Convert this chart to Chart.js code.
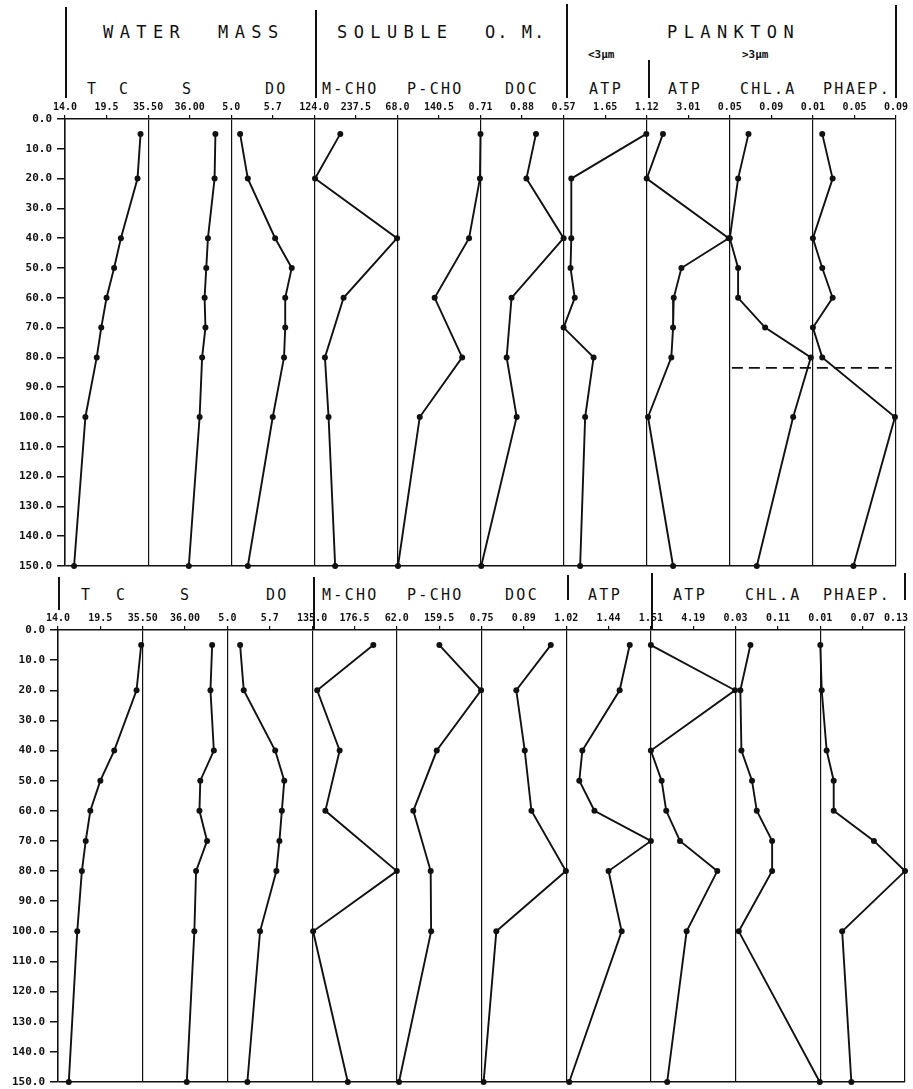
<!DOCTYPE html>
<html>
<head>
<meta charset="utf-8">
<script src="https://cdn.jsdelivr.net/npm/chart.js@4.4.1/dist/chart.umd.min.js"></script>
<style>
  body { margin: 0; background: #fff; width: 913px; height: 1089px; overflow: hidden; position: relative;
         font-family: "DejaVu Sans Mono", monospace; color: #111; }
  canvas { position: absolute; left: 0; }
  .t { position: absolute; white-space: nowrap; line-height: 1; }
  .big { font-size: 17px; letter-spacing: 6.4px; }
  .mid { font-size: 15px; letter-spacing: 2.3px; }
  .sm { font-size: 11px; font-weight: bold; }
  .v { position: absolute; width: 1.5px; background: #111; }
</style>
</head>
<body>
<!-- top header -->
<div class="v" style="left:65px;top:7px;height:91px"></div>
<div class="v" style="left:315px;top:10px;height:88px"></div>
<div class="v" style="left:566px;top:4px;height:94px"></div>
<div class="v" style="left:648px;top:60px;height:38px"></div>
<div class="v" style="left:895px;top:5px;height:93px"></div>
<div class="t big" style="left:103px;top:24px">WATER</div>
<div class="t big" style="left:218px;top:24px">MASS</div>
<div class="t big" style="left:337px;top:24px">SOLUBLE</div>
<div class="t big" style="left:485px;top:24px;letter-spacing:2px">O. M.</div>
<div class="t big" style="left:667px;top:24px">PLANKTON</div>
<div class="t sm" style="left:588px;top:49px">&lt;3µm</div>
<div class="t sm" style="left:742px;top:49px">&gt;3µm</div>
<div class="t mid" style="left:87px;top:82px">T</div>
<div class="t mid" style="left:119px;top:82px">C</div>
<div class="t mid" style="left:182px;top:82px">S</div>
<div class="t mid" style="left:265px;top:82px">DO</div>
<div class="t mid" style="left:322px;top:82px">M-CHO</div>
<div class="t mid" style="left:407px;top:82px">P-CHO</div>
<div class="t mid" style="left:505px;top:82px">DOC</div>
<div class="t mid" style="left:589px;top:82px">ATP</div>
<div class="t mid" style="left:668px;top:82px">ATP</div>
<div class="t mid" style="left:740px;top:82px">CHL.A</div>
<div class="t mid" style="left:823px;top:82px">PHAEP.</div>
<!-- bottom header -->
<div class="v" style="left:58px;top:577px;height:33px"></div>
<div class="v" style="left:313px;top:577px;height:53px"></div>
<div class="v" style="left:567px;top:575px;height:25px"></div>
<div class="v" style="left:651px;top:573px;height:57px"></div>
<div class="v" style="left:904px;top:573px;height:27px"></div>
<div class="t mid" style="left:81px;top:588px">T</div>
<div class="t mid" style="left:116px;top:588px">C</div>
<div class="t mid" style="left:180px;top:588px">S</div>
<div class="t mid" style="left:266px;top:588px">DO</div>
<div class="t mid" style="left:322px;top:588px">M-CHO</div>
<div class="t mid" style="left:407px;top:588px">P-CHO</div>
<div class="t mid" style="left:505px;top:588px">DOC</div>
<div class="t mid" style="left:588px;top:588px">ATP</div>
<div class="t mid" style="left:673px;top:588px">ATP</div>
<div class="t mid" style="left:745px;top:588px">CHL.A</div>
<div class="t mid" style="left:823px;top:588px">PHAEP.</div>

<canvas id="chartTop" width="913" height="490" style="top:95px"></canvas>
<canvas id="chartBottom" width="913" height="483" style="top:606px"></canvas>

<script>
// TICK LABELS (each column: left edge value, middle value)
const topTickLabels = ["14.0", "19.5", "35.50", "36.00", "5.0", "5.7", "124.0", "237.5", "68.0", "140.5",
  "0.71", "0.88", "0.57", "1.65", "1.12", "3.01", "0.05", "0.09", "0.01", "0.05", "0.09"];
const bottomTickLabels = ["14.0", "19.5", "35.50", "36.00", "5.0", "5.7", "135.0", "176.5", "62.0", "159.5",
  "0.75", "0.89", "1.02", "1.44", "1.51", "4.19", "0.03", "0.11", "0.01", "0.07", "0.13"];
const columnKeys = ["T", "S", "DO", "MCHO", "PCHO", "DOC", "ATPs", "ATPl", "CHL", "PHAEP"];

// DEPTHS (m)
const depths = [5, 20, 40, 50, 60, 70, 80, 100, 150];
const depthsCHO = [5, 20, 40, 60, 80, 100, 150];

// TOP PROFILE
const tempTop = [24.0, 23.6, 21.4, 20.5, 19.5, 18.8, 18.2, 16.7, 15.2];
const salTop = [36.31, 36.30, 36.22, 36.20, 36.18, 36.19, 36.15, 36.12, 35.99];
const doTop = [5.15, 5.28, 5.74, 6.02, 5.91, 5.91, 5.89, 5.70, 5.28];
const mchoTop = [195, 126, 350, 204, 153, 163, 181];
const pchoTop = [213, 212, 193, 133, 181, 107, 69];
const docTop = [0.937, 0.898, 1.05, 0.837, 0.817, 0.858, 0.713];
const atpSmallTop = [2.72, 0.77, 0.77, 0.75, 0.86, 0.57, 1.35, 1.13, 1.00];
const atpLargeTop = [1.86, 1.12, 4.85, 2.70, 2.35, 2.32, 2.24, 1.18, 2.32];
const chlTop = [0.068, 0.058, 0.050, 0.058, 0.058, 0.084, 0.128, 0.111, 0.076];
const phaepTop = [0.019, 0.029, 0.010, 0.019, 0.029, 0.010, 0.019, 0.089, 0.049];
const dashDepthTop = 83.5;
const dashSpanTop = [16.05, 19.9];

// BOTTOM PROFILE
const tempBot = [24.8, 24.2, 21.3, 19.5, 18.2, 17.6, 17.1, 16.5, 15.4];
const salBot = [36.32, 36.30, 36.34, 36.18, 36.17, 36.26, 36.13, 36.11, 36.02];
const doBot = [5.21, 5.27, 5.79, 5.94, 5.90, 5.86, 5.81, 5.54, 5.33];
const mchoBot = [195, 140, 162, 148, 218, 136, 170];
const pchoBot = [160, 256, 154, 100, 140, 141, 67];
const docBot = [0.979, 0.865, 0.893, 0.915, 1.029, 0.799, 0.757];
const atpSmallBot = [1.65, 1.55, 1.18, 1.15, 1.30, 1.86, 1.44, 1.57, 1.05];
const atpLargeBot = [1.51, 6.83, 1.51, 2.19, 2.48, 3.35, 5.71, 3.77, 2.54];
const chlBot = [0.058, 0.039, 0.041, 0.061, 0.070, 0.099, 0.099, 0.036, 0.189];
const phaepBot = [0.010, 0.012, 0.019, 0.029, 0.029, 0.086, 0.130, 0.041, 0.054];

Chart.defaults.font.family = "'DejaVu Sans Mono', monospace";
Chart.defaults.color = "#111";

const INK = "#111";
const NONE = "rgba(0,0,0,0)";

function buildChart(canvasId, tickLabels, series, extraSets, yWidth, padRight, padBottom) {
  const last = tickLabels.length - 1;
  const scales = {
    x: {
      type: "linear", position: "top", min: 0, max: 20,
      afterFit: (s) => { s.height = 24; s.paddingLeft = 0; s.paddingRight = 0; },
      ticks: {
        stepSize: 1, autoSkip: false, maxRotation: 0, padding: 2,
        font: { size: 10, weight: "bold" },
        // last label pushed left so it stays inside the page
        callback: (v) => (v === last && padRight < 12 ? tickLabels[v] + "   " : tickLabels[v])
      },
      grid: {
        color: (c) => (c.index % 2 === 0 ? INK : NONE),
        tickColor: INK, tickLength: 4, lineWidth: 1.2
      },
      border: { color: INK, width: 1.5 }
    },
    y: {
      type: "linear", reverse: true, min: 0, max: 150,
      afterFit: (s) => { s.width = yWidth; s.paddingTop = 0; s.paddingBottom = 0; },
      ticks: {
        stepSize: 10, padding: 5,
        font: { size: 11, weight: "bold" },
        callback: (v) => v.toFixed(1)
      },
      grid: {
        color: (c) => (c.tick && c.tick.value === 150 ? INK : NONE),
        tickColor: INK, tickLength: 8, lineWidth: 1.5
      },
      border: { color: INK, width: 1.5 }
    }
  };
  // one hidden scale per column, spanning the whole width
  columnKeys.forEach((key, k) => {
    const lo = parseFloat(tickLabels[2 * k]);
    const step = parseFloat(tickLabels[2 * k + 1]) - lo;
    scales["x" + key] = {
      type: "linear", position: "top", display: false,
      min: lo - 2 * k * step, max: lo + (20 - 2 * k) * step
    };
  });

  const datasets = series.map((s) => ({
    data: s.depths.map((d, i) => ({ x: s.values[i], y: d })),
    xAxisID: "x" + s.key,
    showLine: true,
    borderColor: INK, backgroundColor: INK, borderWidth: 1.9,
    pointRadius: 3, pointBorderWidth: 0,
    clip: false
  })).concat(extraSets);

  return new Chart(document.getElementById(canvasId), {
    type: "scatter",
    data: { datasets },
    options: {
      responsive: false, animation: false,
      layout: { padding: { left: 0, top: 0, right: padRight, bottom: padBottom } },
      plugins: { legend: { display: false }, tooltip: { enabled: false } },
      scales
    }
  });
}

buildChart("chartTop", topTickLabels, [
  { key: "T", depths, values: tempTop },
  { key: "S", depths, values: salTop },
  { key: "DO", depths, values: doTop },
  { key: "MCHO", depths: depthsCHO, values: mchoTop },
  { key: "PCHO", depths: depthsCHO, values: pchoTop },
  { key: "DOC", depths: depthsCHO, values: docTop },
  { key: "ATPs", depths, values: atpSmallTop },
  { key: "ATPl", depths, values: atpLargeTop },
  { key: "CHL", depths, values: chlTop },
  { key: "PHAEP", depths, values: phaepTop }
], [{
  data: dashSpanTop.map((x) => ({ x, y: dashDepthTop })),
  xAxisID: "x", showLine: true, borderColor: INK, borderWidth: 1.8,
  borderDash: [11, 6], pointRadius: 0
}], 65, 17, 19);

buildChart("chartBottom", bottomTickLabels, [
  { key: "T", depths, values: tempBot },
  { key: "S", depths, values: salBot },
  { key: "DO", depths, values: doBot },
  { key: "MCHO", depths: depthsCHO, values: mchoBot },
  { key: "PCHO", depths: depthsCHO, values: pchoBot },
  { key: "DOC", depths: depthsCHO, values: docBot },
  { key: "ATPs", depths, values: atpSmallBot },
  { key: "ATPl", depths, values: atpLargeBot },
  { key: "CHL", depths, values: chlBot },
  { key: "PHAEP", depths, values: phaepBot }
], [], 58, 8, 7);
</script>
</body>
</html>
